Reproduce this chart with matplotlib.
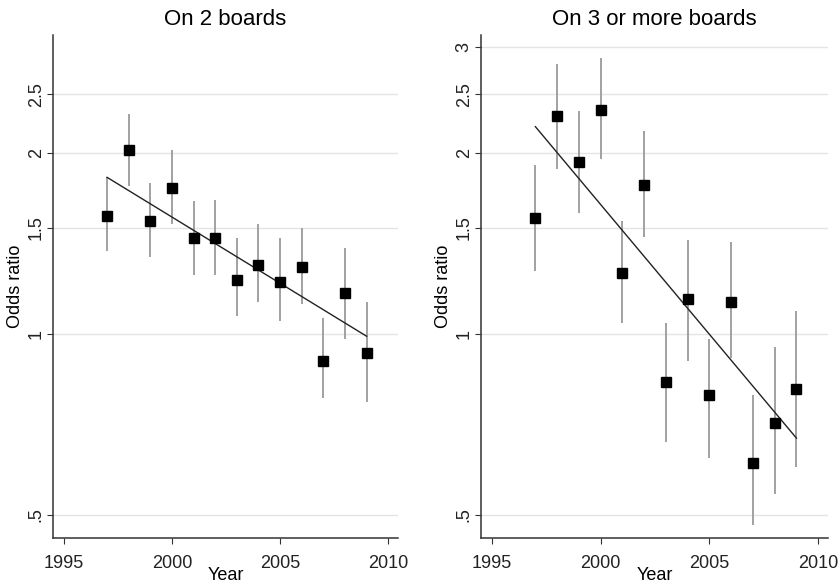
"""Odds ratio by year, two panels (log scale), with trend lines."""
import numpy as np
import matplotlib
matplotlib.use("Agg")
import matplotlib.pyplot as plt

plt.rcParams["font.family"] = ["Liberation Sans", "DejaVu Sans"]

years = [1997, 1998, 1999, 2000, 2001, 2002, 2003, 2004, 2005, 2006, 2007, 2008, 2009]

# On 2 boards
or_two = [1.57, 2.02, 1.54, 1.75, 1.44, 1.44, 1.23, 1.30, 1.22, 1.29, 0.90, 1.17, 0.93]
lo_two = [1.37, 1.76, 1.34, 1.52, 1.25, 1.25, 1.07, 1.13, 1.05, 1.12, 0.78, 0.98, 0.77]
hi_two = [1.82, 2.32, 1.78, 2.02, 1.66, 1.67, 1.44, 1.52, 1.44, 1.50, 1.06, 1.39, 1.13]
trend_two = [1.82, 0.99]

# On 3 or more boards
or_three = [1.56, 2.30, 1.93, 2.36, 1.26, 1.77, 0.83, 1.14, 0.79, 1.13, 0.61, 0.71, 0.81]
lo_three = [1.27, 1.88, 1.59, 1.95, 1.04, 1.45, 0.66, 0.90, 0.62, 0.91, 0.48, 0.54, 0.60]
hi_three = [1.91, 2.81, 2.35, 2.88, 1.54, 2.17, 1.04, 1.43, 0.98, 1.42, 0.79, 0.95, 1.09]
trend_three = [2.21, 0.67]

trend_years = [1997, 2009]

panels = [
    ("On 2 boards", or_two, lo_two, hi_two, trend_two, [0.5, 1, 1.5, 2, 2.5]),
    ("On 3 or more boards", or_three, lo_three, hi_three, trend_three, [0.5, 1, 1.5, 2, 2.5, 3]),
]


def fmt(v):
    s = f"{v:g}"
    return s[1:] if s.startswith("0.") else s


fig = plt.figure(figsize=(8.38, 5.83), dpi=100)
W, H = 838, 583
boxes = [(53, 35, 398, 538), (481, 35, 828, 538)]

for (title, ors, lo, hi, trend, yt), (x0, y0, x1, y1) in zip(panels, boxes):
    ax = fig.add_axes([x0 / W, 1 - y1 / H, (x1 - x0) / W, (y1 - y0) / H])
    ax.set_yscale("log")
    ors = np.array(ors)
    err = [ors - np.array(lo), np.array(hi) - ors]
    ax.errorbar(years, ors, yerr=err, fmt="none", ecolor="#9a9a9a", elinewidth=1.3, capsize=0, zorder=2)
    ax.plot(years, ors, "s", color="black", markersize=7.5, zorder=3)
    ax.plot(trend_years, trend, color="#222222", linewidth=1.0, zorder=2)

    ax.set_ylim(0.457, 3.14)
    ax.set_xlim(1994.5, 2010.45)
    ax.set_yticks(yt)
    ax.set_yticklabels([fmt(v) for v in yt], rotation=90, va="center")
    ax.minorticks_off()
    ax.set_xticks([1995, 2000, 2005, 2010])
    ax.grid(True, axis="y", color="#e4e4e4", linewidth=1)
    ax.set_axisbelow(True)
    for s in ("top", "right"):
        ax.spines[s].set_visible(False)
    for s in ("left", "bottom"):
        ax.spines[s].set_color("#333333")
        ax.spines[s].set_linewidth(1.1)
    ax.tick_params(axis="both", labelsize=13, color="#333333", length=4, labelcolor="#222222")
    ax.tick_params(axis="x", pad=8)
    ax.tick_params(axis="y", pad=2)
    ax.set_title(title, fontsize=16, pad=7)
    ax.set_xlabel("Year", fontsize=13, labelpad=-3)
    ax.set_ylabel("Odds ratio", fontsize=13, labelpad=3)

fig.savefig("out.png", dpi=100)
